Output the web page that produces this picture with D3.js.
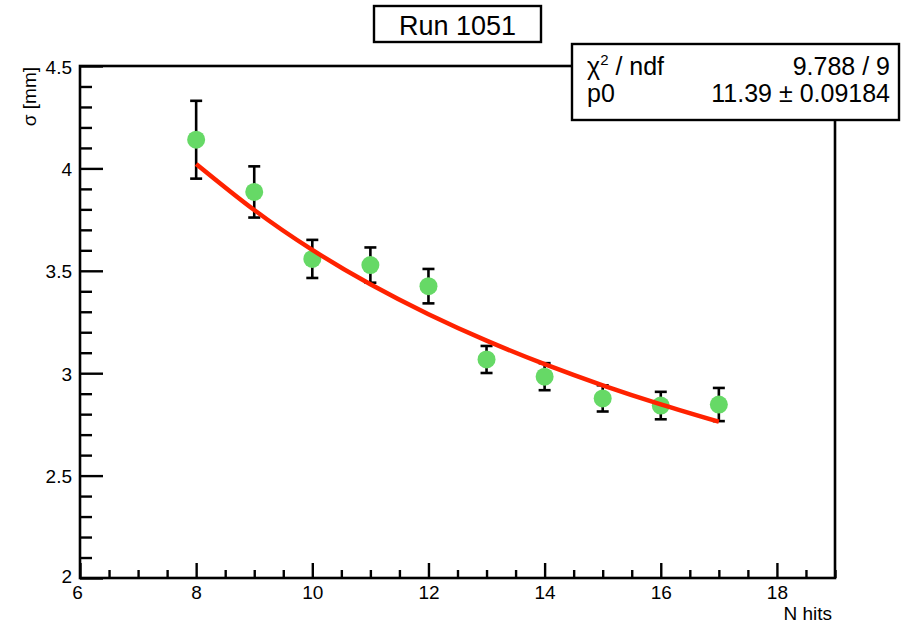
<!DOCTYPE html>
<html><head><meta charset="utf-8">
<script src="https://cdn.jsdelivr.net/npm/d3@7"></script>
<style>body{margin:0;background:#fff}svg{display:block;font-family:"Liberation Sans",Arial,Helvetica,sans-serif}</style>
</head><body>
<svg id="c" width="903" height="629"></svg>
<script>
const nHits = [8, 9, 10, 11, 12, 13, 14, 15, 16, 17];
const sigma = [4.14, 3.885, 3.558, 3.528, 3.425, 3.067, 2.983, 2.877, 2.842, 2.847];
const sigmaErr = [0.19, 0.125, 0.093, 0.086, 0.084, 0.066, 0.066, 0.064, 0.067, 0.081];
const fitX = [8, 9, 10, 11, 12, 13, 14, 15, 16, 17];
const fitY = [4.022, 3.797, 3.602, 3.434, 3.288, 3.159, 3.044, 2.941, 2.848, 2.763];
const xTicks = [6, 8, 10, 12, 14, 16, 18];
const yTicks = [2, 2.5, 3, 3.5, 4, 4.5];
const titleText = "Run 1051";
const statsRows = [["χ2 / ndf", "9.788 / 9"], ["p0", "11.39 ± 0.09184"]];

const svg = d3.select("#c");
const L = 80, R = 835, T = 66, B = 578;
const x = d3.scaleLinear().domain([6, 19]).range([L, R]);
const y = d3.scaleLinear().domain([2, 4.5]).range([B, T]);

// frame
svg.append("rect").attr("x", L).attr("y", T).attr("width", R - L).attr("height", B - T)
  .attr("fill", "none").attr("stroke", "#000").attr("stroke-width", 2.6);

// x axis ticks
const xMinor = d3.range(6, 19.01, 0.5);
const gx = svg.append("g").attr("transform", `translate(0,${B})`);
gx.call(d3.axisBottom(x).tickValues(xMinor).tickSize(0).tickFormat(""));
gx.select(".domain").remove();
gx.selectAll(".tick").append("line")
  .attr("y1", 0).attr("y2", d => xTicks.includes(d) ? -15 : -8)
  .attr("stroke", "#000").attr("stroke-width", 2.4);
gx.selectAll(".tick").filter(d => xTicks.includes(d)).append("text")
  .attr("y", 21).attr("x", d => d === 6 ? -3 : 0)
  .attr("text-anchor", "middle").attr("font-size", 19).attr("fill", "#000")
  .text(d => d);

// y axis ticks
const yMinor = d3.range(20, 45.01, 1).map(v => v / 10);
const gy = svg.append("g").attr("transform", `translate(${L},0)`);
gy.call(d3.axisLeft(y).tickValues(yMinor).tickSize(0).tickFormat(""));
gy.select(".domain").remove();
const isMajor = d => yTicks.some(t => Math.abs(t - d) < 1e-6);
gy.selectAll(".tick").append("line")
  .attr("x1", 0).attr("x2", d => isMajor(d) ? 23 : 12)
  .attr("stroke", "#000").attr("stroke-width", 2.4);
gy.selectAll(".tick").filter(isMajor).append("text")
  .attr("x", -8).attr("dy", d => d === 2 ? 4 : 7).attr("text-anchor", "end").attr("font-size", 19).attr("fill", "#000")
  .text(d => d);

// axis titles
svg.append("text").attr("x", 832).attr("y", 620).attr("text-anchor", "end")
  .attr("font-size", 19).text("N hits");
svg.append("text").attr("transform", "translate(36,67) rotate(-90)").attr("text-anchor", "end")
  .attr("font-size", 19).text("σ [mm]");

// error bars
const eg = svg.append("g").attr("stroke", "#000").attr("stroke-width", 2.6);
nHits.forEach((n, i) => {
  const cx = x(n), y0 = y(sigma[i] - sigmaErr[i]), y1 = y(sigma[i] + sigmaErr[i]);
  eg.append("line").attr("x1", cx).attr("x2", cx).attr("y1", y0).attr("y2", y1);
  eg.append("line").attr("x1", cx - 6).attr("x2", cx + 6).attr("y1", y0).attr("y2", y0);
  eg.append("line").attr("x1", cx - 6).attr("x2", cx + 6).attr("y1", y1).attr("y2", y1);
});

// points
svg.append("g").selectAll("circle").data(nHits).join("circle")
  .attr("cx", d => x(d)).attr("cy", (d, i) => y(sigma[i])).attr("r", 9)
  .attr("fill", "#66d966");

// fit line
const fitLine = d3.line().x(d => x(d[0])).y(d => y(d[1])).curve(d3.curveNatural);
svg.append("path").datum(fitX.map((v, i) => [v, fitY[i]]))
  .attr("d", fitLine).attr("fill", "none").attr("stroke", "#ff2200").attr("stroke-width", 4.5);

// title box
svg.append("rect").attr("x", 374).attr("y", 6).attr("width", 167).attr("height", 36)
  .attr("fill", "#fff").attr("stroke", "#000").attr("stroke-width", 2.4);
svg.append("text").attr("x", 457.5).attr("y", 35).attr("text-anchor", "middle")
  .attr("font-size", 27).text(titleText);

// stats box
svg.append("rect").attr("x", 572).attr("y", 44).attr("width", 327).attr("height", 76)
  .attr("fill", "#fff").attr("stroke", "#000").attr("stroke-width", 2.4);
const sg = svg.append("g").attr("font-size", 25);
statsRows.forEach((r, i) => {
  const by = i === 0 ? 75 : 102;
  const t = sg.append("text").attr("x", 587).attr("y", by);
  if (r[0].startsWith("χ2")) {
    t.append("tspan").text("χ");
    t.append("tspan").attr("font-size", 15).attr("dy", -10).text("2");
    t.append("tspan").attr("dy", 10).text(" / ndf");
  } else {
    t.text(r[0]);
  }
  sg.append("text").attr("x", 890).attr("y", by).attr("text-anchor", "end").text(r[1]);
});
</script>
</body></html>
